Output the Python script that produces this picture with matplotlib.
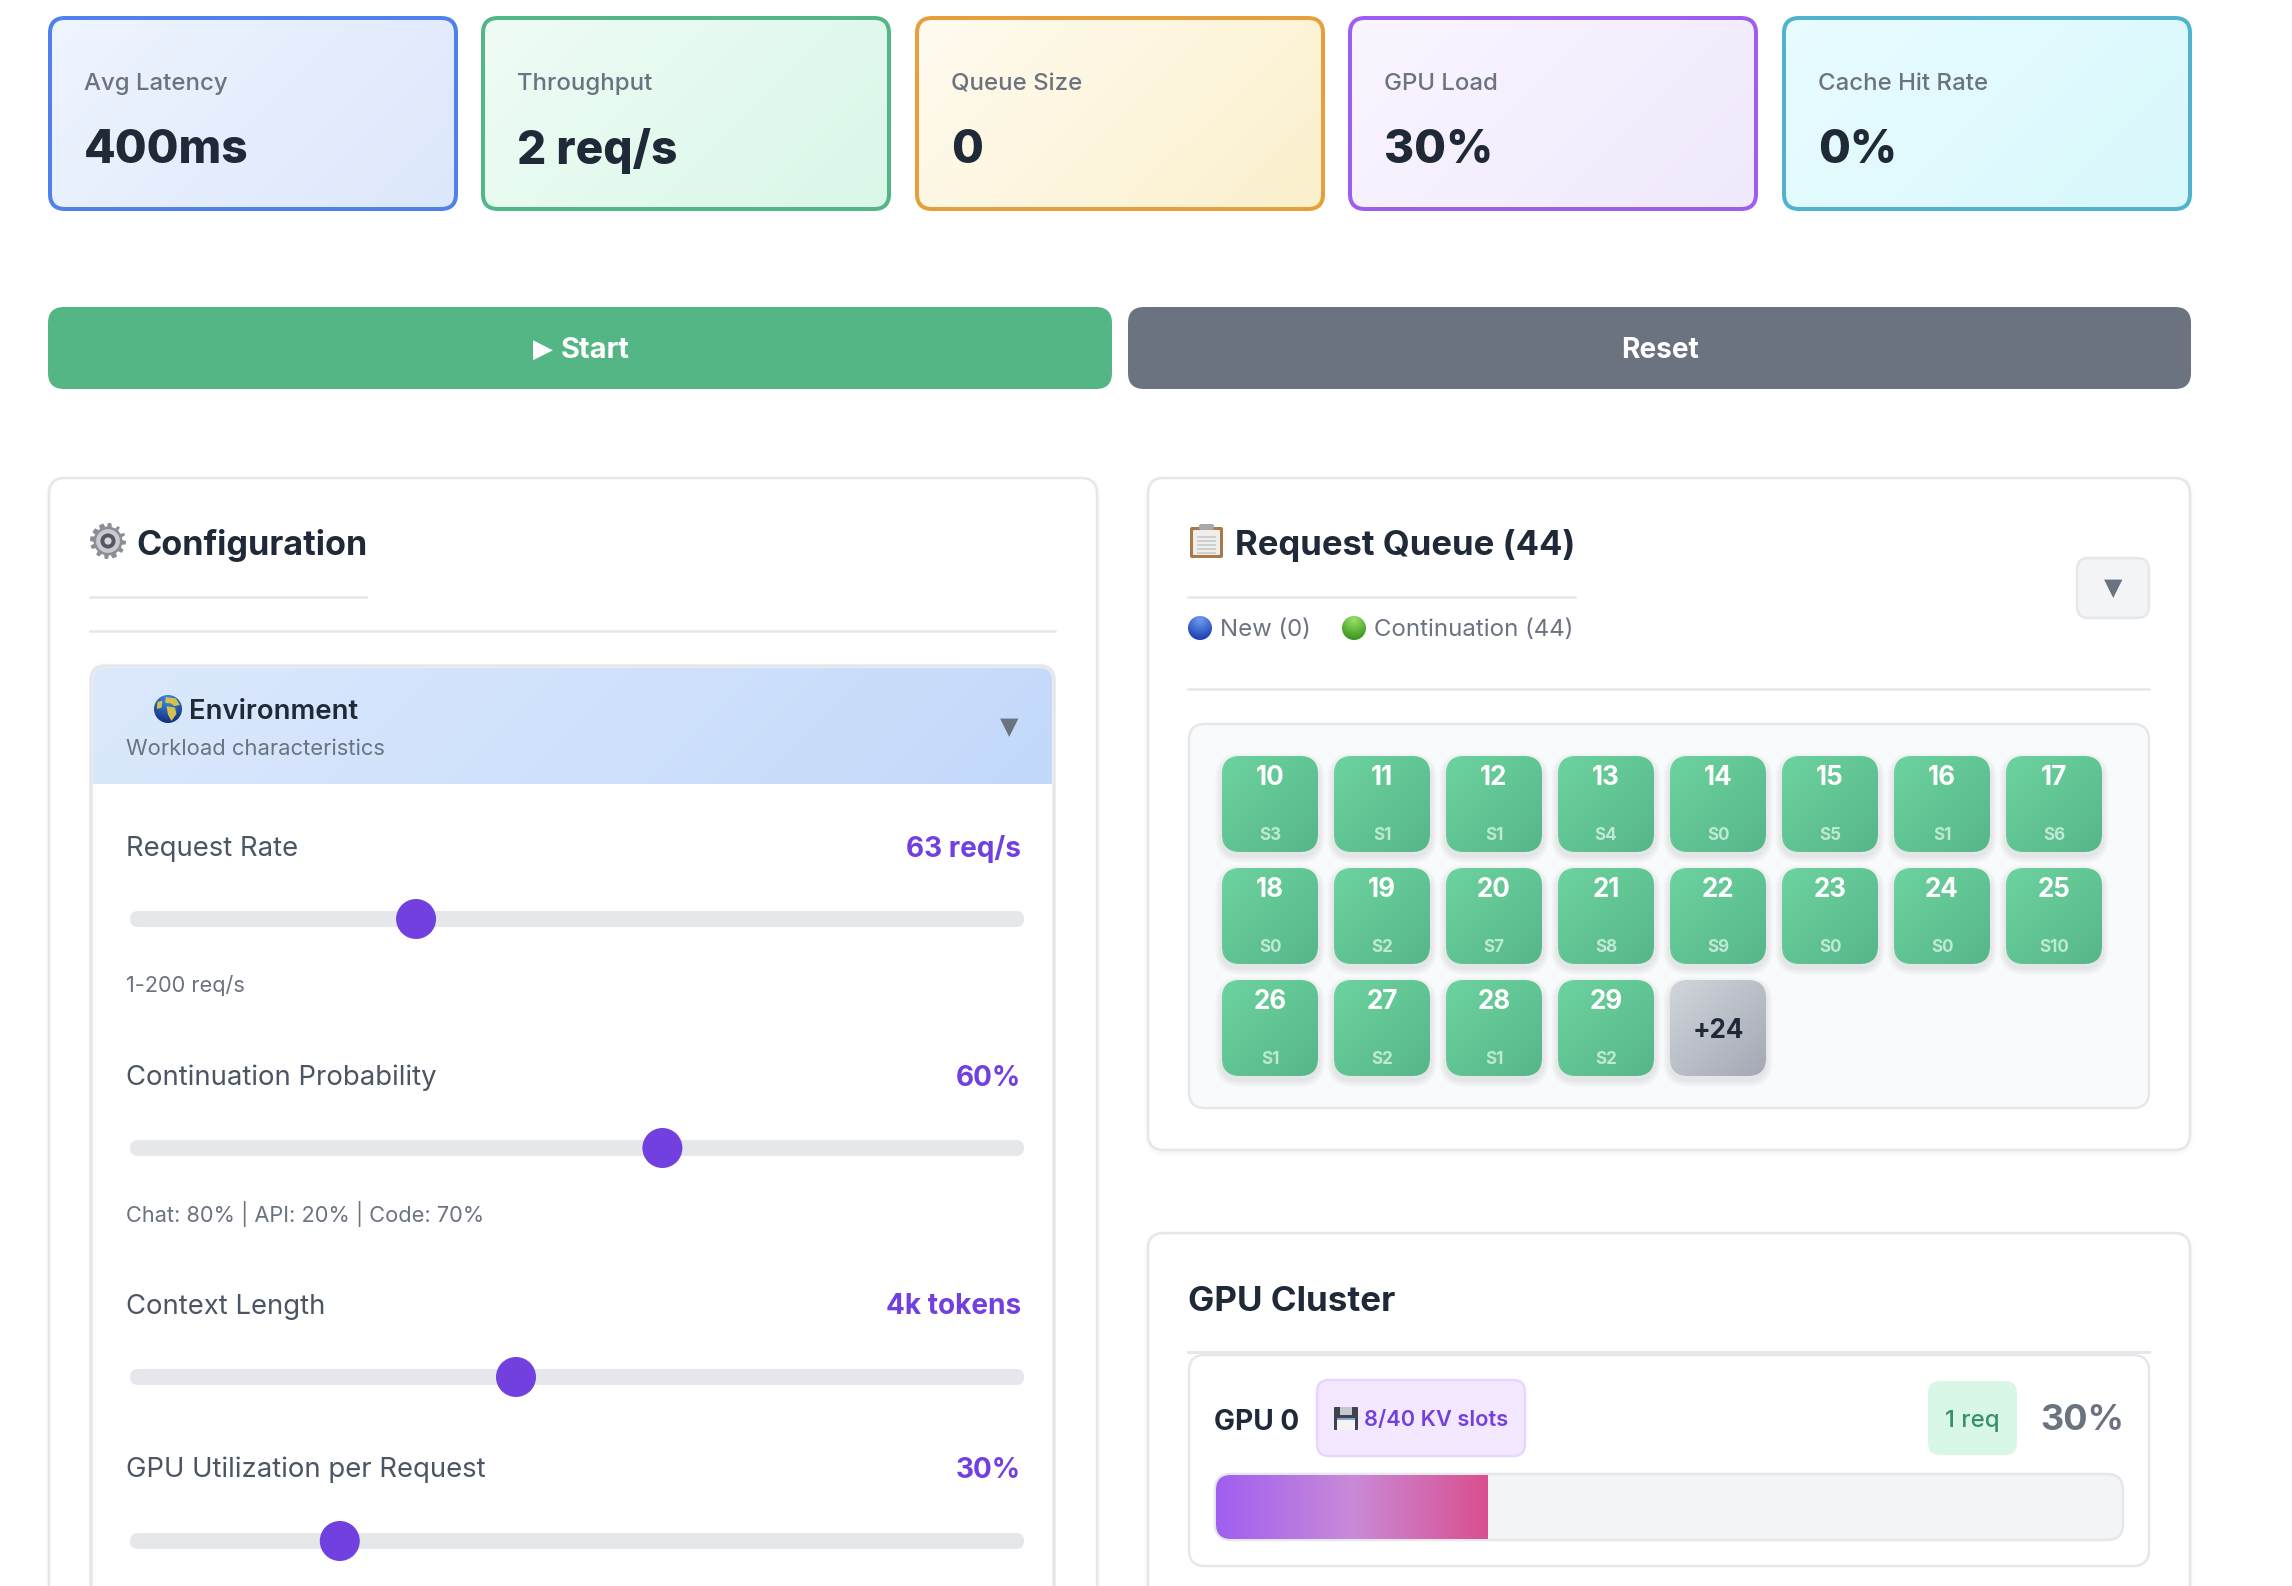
import numpy as np
import matplotlib
matplotlib.use("Agg")
import matplotlib.pyplot as plt
from matplotlib.colors import to_rgb
from matplotlib.patches import Circle, FancyBboxPatch, Polygon, Rectangle

# metric cards
card_labels = ["Avg Latency", "Throughput", "Queue Size", "GPU Load", "Cache Hit Rate"]
card_values = ["400ms", "2 req/s", "0", "30%", "0%"]

# sliders
slider_labels = ["Request Rate", "Continuation Probability", "Context Length", "GPU Utilization per Request"]
slider_texts = ["63 req/s", "60%", "4k tokens", "30%"]
slider_values = [63, 60, 4, 30]
slider_mins = [1, 0, 1, 10]
slider_maxs = [200, 100, 8, 100]
slider_notes = ["1-200 req/s", "Chat: 80% | API: 20% | Code: 70%", "", ""]

# queue
queue_ids = [10, 11, 12, 13, 14, 15, 16, 17, 18, 19, 20, 21, 22, 23, 24, 25, 26, 27, 28, 29]
queue_sessions = ["S3", "S1", "S1", "S4", "S0", "S5", "S1", "S6", "S0", "S2",
                  "S7", "S8", "S9", "S0", "S0", "S10", "S1", "S2", "S1", "S2"]
queue_hidden = 24

# gpu
gpu_util = 30
gpu_kv_used = 8
gpu_kv_total = 40
gpu_reqs = 1

card_edges = ["#4f80ee", "#53b686", "#e69f3a", "#9f5cf0", "#50b2cf"]
card_from = ["#eff5ff", "#effcf5", "#fffbf0", "#faf6ff", "#e9fcff"]
card_to = ["#dce7fb", "#d9f7e8", "#fbf0cc", "#f0e8fc", "#d8f8fc"]
card_left = [48, 481, 915, 1348, 1782]
slider_y = [919, 1148, 1377, 1541]
label_y = [849, 1078, 1307, 1470]
note_y = [986, 1214, 0, 0]

DARK = "#1f2937"
GRAY = "#6b7280"
LINE = "#e5e7eb"
PURPLE = "#7340e0"

plt.rcParams["font.family"] = ["Inter", "DejaVu Sans"]

fig = plt.figure(figsize=(22.92, 15.86), dpi=100)
ax = fig.add_axes([0, 0, 1, 1])
ax.set_axis_off()


def px(v):
    # sizes below are in image pixels, matplotlib wants points
    return v * 72 / fig.dpi


def box(x0, y0, x1, y1, r=0, fc="none", ec="none", lw=0, z=2, alpha=None):
    p = FancyBboxPatch((x0, y0), x1 - x0, y1 - y0, boxstyle=f"round,pad=0,rounding_size={r}",
                       fc=fc, ec=ec, lw=px(lw), zorder=z, alpha=alpha)
    ax.add_patch(p)
    return p


def grad_box(x0, y0, x1, y1, c0, c1, r=0, z=2, clip_bottom=None):
    # 135deg css style gradient, clipped to a rounded box
    w, h = x1 - x0, y1 - y0
    xx, yy = np.meshgrid(np.linspace(0, w, 120), np.linspace(0, h, 80))
    t = ((xx + yy) / (w + h))[..., None]
    img = np.array(to_rgb(c0)) * (1 - t) + np.array(to_rgb(c1)) * t
    im = ax.imshow(img, extent=(x0, x1, y1, y0), aspect="auto", zorder=z, interpolation="bilinear")
    clip = FancyBboxPatch((x0, y0), w, (clip_bottom or y1) - y0, boxstyle=f"round,pad=0,rounding_size={r}",
                          transform=ax.transData)
    im.set_clip_path(clip)
    return im


def shadow(x0, y0, x1, y1, r, dy, spread, alpha, z=1):
    for i in range(spread, 0, -1):
        box(x0 - i, y0 - i + dy, x1 + i, y1 + i + dy, r + i, fc="black", z=z, alpha=alpha)


def txt(x, y, s, size, color=DARK, weight="normal", ha="left", z=6, **kw):
    return ax.text(x, y, s, fontsize=px(size), color=color, fontweight=weight, ha=ha, va="center", zorder=z, **kw)


def ball(cx, cy, r, c0, c1, z=6):
    # little shaded sphere, used for the emoji dots
    n = 60
    xx, yy = np.meshgrid(np.linspace(-1, 1, n), np.linspace(-1, 1, n))
    t = np.clip(np.hypot(xx, yy + 0.7) / 1.7, 0, 1)[..., None]
    img = np.array(to_rgb(c0)) * (1 - t) + np.array(to_rgb(c1)) * t
    im = ax.imshow(img, extent=(cx - r, cx + r, cy + r, cy - r), aspect="auto", zorder=z, interpolation="bilinear")
    im.set_clip_path(Circle((cx, cy), r, transform=ax.transData))


def gear(cx, cy, r, z=6):
    ang = np.linspace(0, 2 * np.pi, 96, endpoint=False)
    rad = np.where((ang * 12 / (2 * np.pi)) % 1 < 0.5, r, r * 0.8)
    ax.add_patch(Polygon(np.c_[cx + rad * np.cos(ang), cy + rad * np.sin(ang)], fc="#8b8e94", ec="none", zorder=z))
    ax.add_patch(Circle((cx, cy), r * 0.66, fc="#c9cbce", zorder=z))
    ax.add_patch(Circle((cx, cy), r * 0.42, fc="#55585e", zorder=z))
    ax.add_patch(Circle((cx, cy), r * 0.2, fc="#d8d9db", zorder=z))


def globe(cx, cy, r, z=6):
    ball(cx, cy, r, "#3f8fe6", "#12307f", z)
    land = [[(-0.15, -0.85), (0.55, -0.75), (0.85, -0.3), (0.45, -0.2), (0.2, -0.4), (-0.2, -0.45)],
            [(-0.1, -0.2), (0.5, -0.1), (0.6, 0.35), (0.25, 0.85), (0.0, 0.4)],
            [(-0.75, -0.5), (-0.4, -0.6), (-0.45, -0.1), (-0.8, 0.0)]]
    for pts in land:
        p = np.array(pts) * r + (cx, cy)
        ax.add_patch(Polygon(p, fc="#d6c24a", ec="none", zorder=z + 0.1))


def clipboard(x0, y0, x1, y1, z=6):
    box(x0, y0 + 3, x1, y1, 2, fc="#a9794a", z=z)
    box(x0 + 3, y0 + 6, x1 - 3, y1 - 3, 1, fc="#efeeec", z=z + 0.1)
    for i in range(5):
        yy = y0 + 12 + i * 4
        ax.add_patch(Rectangle((x0 + 7, yy), x1 - x0 - 14, 1.6, fc="#cfcfcf", zorder=z + 0.2))
    box(x0 + 9, y0, x1 - 9, y0 + 6, 2, fc="#a8a8a8", z=z + 0.3)


def floppy(x0, y0, x1, y1, z=6):
    box(x0, y0, x1, y1, 1, fc="#3f434b", z=z)
    ax.add_patch(Rectangle((x0 + 6, y0), x1 - x0 - 12, 8, fc="#c4c7cc", zorder=z + 0.1))
    ax.add_patch(Rectangle((x0 + 3, y0 + 11), x1 - x0 - 6, y1 - y0 - 11, fc="#f4f4f4", zorder=z + 0.1))
    ax.add_patch(Rectangle((x0 + 3, y0 + 11), x1 - x0 - 6, 2, fc="#7fa7d8", zorder=z + 0.2))


# top cards
for i, left in enumerate(card_left):
    grad_box(left, 17, left + 410, 210, card_from[i], card_to[i], r=16, z=2)
    box(left + 2, 18, left + 408, 209, 15, ec=card_edges[i], lw=4, z=3)
    txt(left + 36, 84, card_labels[i], 24, GRAY, "medium")
    txt(left + 36, 151, card_values[i], 46, DARK, "heavy")

# buttons
box(48, 307, 1112, 389, 16, fc="#54b685")
box(1128, 307, 2191, 389, 16, fc=GRAY)
txt(543, 350, "\u25b6", 26, "white", family="DejaVu Sans", ha="center")
txt(561, 351, "Start", 29, "white", "bold")
txt(1660, 351, "Reset", 28, "white", "bold", ha="center")

# panels, left and gpu ones run off the bottom of the picture
for x0, y0, x1, y1 in [(49, 478, 1097, 1700), (1148, 478, 2190, 1150), (1148, 1233, 2190, 1700)]:
    shadow(x0, y0, x1, y1, 16, 2, 4, 0.006)
    box(x0, y0, x1, y1, 16, fc="white", ec=LINE, lw=2.5, z=1.5)

# configuration panel
gear(108, 541, 18)
txt(136, 545, "Configuration", 34.2, DARK, "bold")
ax.plot([90, 366], [597, 597], color=LINE, lw=px(2.5), zorder=3)
ax.plot([90, 1055], [631, 631], color=LINE, lw=px(2.5), zorder=3)

box(91, 666, 1054, 1700, 14, fc="white", ec=LINE, lw=3.5, z=2)
grad_box(93, 668, 1052, 784, "#dce9fd", "#c3d9fa", r=12, z=2.5, clip_bottom=800)
globe(168, 709, 14)
txt(189, 712, "Environment", 27.5, DARK, "semibold")
txt(126, 749, "Workload characteristics", 22, GRAY)
txt(1009, 727, "\u25bc", 24, GRAY, family="DejaVu Sans", ha="center")

track_x0, track_x1 = 130, 1024
thumb_r = 20
for i, label in enumerate(slider_labels):
    txt(126, label_y[i], label, 27.5, "#4b5563")
    txt(1021, label_y[i], slider_texts[i], 28, PURPLE, "bold", ha="right")
    y = slider_y[i]
    box(track_x0, y - 8, track_x1, y + 8, 8, fc=LINE, z=3)
    frac = (slider_values[i] - slider_mins[i]) / (slider_maxs[i] - slider_mins[i])
    cx = track_x0 + thumb_r + frac * (track_x1 - track_x0 - 2 * thumb_r)
    ax.add_patch(Circle((cx, y), thumb_r, fc=PURPLE, zorder=4))
    if slider_notes[i]:
        txt(126, note_y[i], slider_notes[i], 21.8, GRAY)

# request queue panel
clipboard(1190, 524, 1223, 558)
txt(1235, 545, f"Request Queue ({len(queue_ids) + queue_hidden})", 34.7, DARK, "bold")
ax.plot([1188, 1575], [597, 597], color=LINE, lw=px(2.5), zorder=3)
ball(1200, 628, 12, "#6f9cf2", "#1a3db0")
txt(1220, 630, "New (0)", 24, GRAY)
ball(1354, 628, 12, "#98e268", "#36931a")
txt(1374, 630, f"Continuation ({len(queue_ids) + queue_hidden})", 24, GRAY)
box(2077, 558, 2149, 618, 12, fc="#f3f4f6", ec=LINE, lw=2.5, z=3)
txt(2113, 588, "\u25bc", 24, GRAY, family="DejaVu Sans", ha="center")
ax.plot([1188, 2149], [689, 689], color=LINE, lw=px(2.5), zorder=3)

box(1189, 724, 2149, 1108, 16, fc="#f9fafb", ec=LINE, lw=2.5, z=2)
tile_size, tile_step = 96, 112
tile_x0, tile_y0 = 1222, 756
for i, (qid, sess) in enumerate(zip(queue_ids, queue_sessions)):
    row, col = divmod(i, 8)
    x = tile_x0 + col * tile_step
    y = tile_y0 + row * tile_step
    shadow(x, y, x + tile_size, y + tile_size, 18, 4, 7, 0.013, z=2.5)
    grad_box(x, y, x + tile_size, y + tile_size, "#6cd39f", "#57b689", r=18, z=3)
    txt(x + tile_size / 2, y + 22, str(qid), 26, "white", "bold", ha="center")
    txt(x + tile_size / 2, y + 79, sess, 17, "#bfe9d3", "bold", ha="center")
# the "+24" tile sits after the listed ones
row, col = divmod(len(queue_ids), 8)
x = tile_x0 + col * tile_step
y = tile_y0 + row * tile_step
shadow(x, y, x + tile_size, y + tile_size, 18, 4, 7, 0.013, z=2.5)
grad_box(x, y, x + tile_size, y + tile_size, "#d1d5db", "#a3a8b4", r=18, z=3)
txt(x + tile_size / 2, y + tile_size / 2 + 3, f"+{queue_hidden}", 26, DARK, "bold", ha="center")

# gpu cluster panel
txt(1188, 1302, "GPU Cluster", 35, DARK, "bold")
ax.plot([1188, 2149], [1352, 1352], color=LINE, lw=px(3), zorder=3)
box(1189, 1355, 2149, 1566, 16, fc="white", ec=LINE, lw=2.5, z=2)
txt(1214, 1422, "GPU 0", 28, DARK, "bold")
box(1317, 1380, 1525, 1456, 12, fc="#f3e8ff", ec="#e9d5ff", lw=2.5, z=3)
floppy(1334, 1407, 1358, 1430)
txt(1364, 1420, f"{gpu_kv_used}/{gpu_kv_total} KV slots", 21.8, PURPLE, "semibold")
box(1928, 1381, 2017, 1455, 12, fc="#d9f7e6", z=3)
txt(1972, 1421, f"{gpu_reqs} req", 24, "#38906a", "medium", ha="center")
txt(2124, 1421, f"{gpu_util}%", 36, GRAY, "bold", ha="right")

bar_x0, bar_x1 = 1215, 2123
box(bar_x0, 1474, bar_x1, 1540, 16, fc="#f3f4f6", ec=LINE, lw=2.5, z=3)
fill_x1 = bar_x0 + (bar_x1 - bar_x0) * gpu_util / 100
t = np.linspace(0, 1, 200)[None, :, None]
stops = np.interp(t[0, :, 0], [0, 0.5, 1], [0, 1, 2])
c = np.array([to_rgb("#a05ef0"), to_rgb("#c98ad8"), to_rgb("#da4f8f")])
img = np.stack([np.interp(stops, [0, 1, 2], c[:, k]) for k in range(3)], axis=-1)[None, ...]
im = ax.imshow(img, extent=(bar_x0 + 1, fill_x1, 1539, 1475), aspect="auto", zorder=3.5, interpolation="bilinear")
im.set_clip_path(FancyBboxPatch((bar_x0 + 1, 1475), bar_x1 - bar_x0 - 2, 64,
                                boxstyle="round,pad=0,rounding_size=15", transform=ax.transData))

ax.set_xlim(0, 2292)
ax.set_ylim(1586, 0)
fig.savefig("out.png", dpi=100, facecolor="white")
